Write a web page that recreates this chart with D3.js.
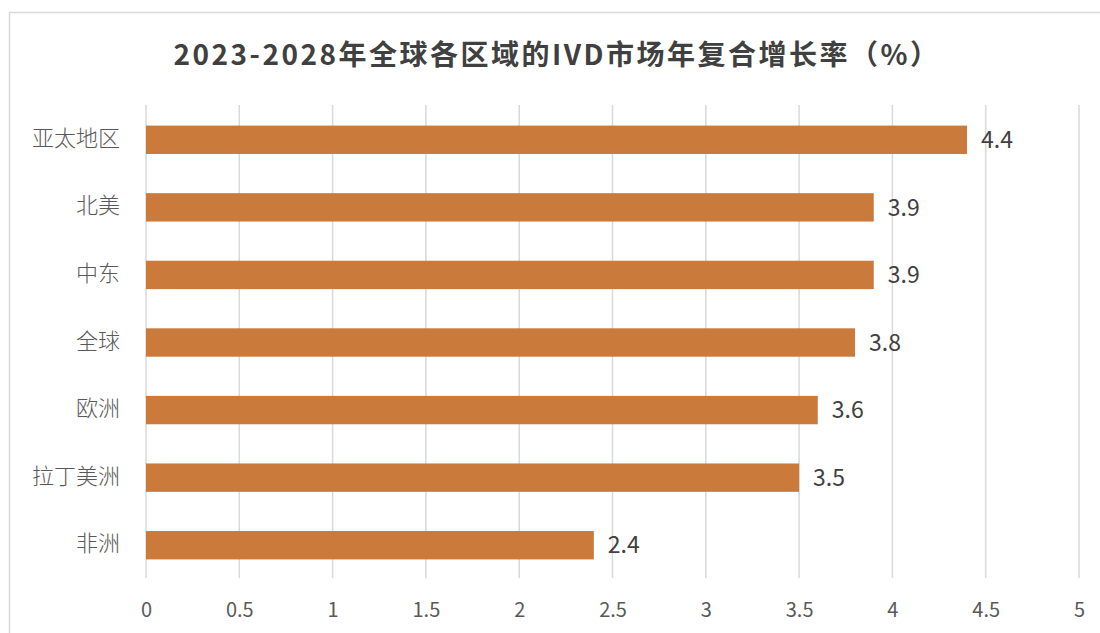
<!DOCTYPE html>
<html><head><meta charset="utf-8">
<script src="https://cdn.jsdelivr.net/npm/d3@7"></script>
<style>body{margin:0;background:#fff;}svg{display:block;}</style>
</head><body>
<svg id="c" width="1100" height="633"></svg>
<script>
const categories = ["亚太地区","北美","中东","全球","欧洲","拉丁美洲","非洲"];
const values = [4.4, 3.9, 3.9, 3.8, 3.6, 3.5, 2.4];
const ticks = [0,0.5,1,1.5,2,2.5,3,3.5,4,4.5,5];
const tickLabels = ["0","0.5","1","1.5","2","2.5","3","3.5","4","4.5","5"];
const title = "2023-2028年全球各区域的IVD市场年复合增长率（%）";

const svg = d3.select("#c");
const font = "'Noto Sans CJK SC','Microsoft YaHei',sans-serif";
// border
svg.append("rect").attr("x",9.5).attr("y",12.5).attr("width",1100).attr("height",640)
  .attr("fill","#fff").attr("stroke","#d9d9d9").attr("stroke-width",1.5);

const x = d3.scaleLinear().domain([0,5]).range([146,1079]);
const y = d3.scaleBand().domain(categories).range([105,578]).paddingInner(0.58).paddingOuter(0.29);

svg.append("text").attr("x",557).attr("y",65).attr("text-anchor","middle")
  .attr("font-family",font).attr("font-weight","bold").attr("font-size",28)
  .attr("letter-spacing",2.5).attr("fill","#404040").text(title);

// gridlines
svg.append("g").selectAll("line").data(ticks).join("line")
  .attr("x1",d=>x(d)).attr("x2",d=>x(d)).attr("y1",105).attr("y2",578)
  .attr("stroke","#d9d9d9").attr("stroke-width",1.5);

// x axis labels
const xa = svg.append("g").attr("transform","translate(0,578)")
  .call(d3.axisBottom(x).tickValues(ticks).tickFormat((d,i)=>tickLabels[i]).tickSize(0).tickPadding(25));
xa.select(".domain").remove();
xa.selectAll("text").attr("font-family",font).attr("font-size",20).attr("fill","#595959");

// y axis labels
const ya = svg.append("g").attr("transform","translate(146,0)")
  .call(d3.axisLeft(y).tickSize(0).tickPadding(26));
ya.select(".domain").remove();
ya.selectAll("text").attr("font-family",font).attr("font-size",22).attr("font-weight",300).attr("fill","#595959");

// bars
svg.append("g").selectAll("rect").data(values).join("rect")
  .attr("x",x(0)).attr("y",(d,i)=>y(categories[i])+1)
  .attr("width",d=>x(d)-x(0)).attr("height",y.bandwidth())
  .attr("fill","#CA7A3B");

// value labels
svg.append("g").selectAll("text").data(values).join("text")
  .attr("x",d=>x(d)+14).attr("y",(d,i)=>y(categories[i])+1+y.bandwidth()/2)
  .attr("dy","0.36em").attr("font-family",font).attr("font-size",23).attr("fill","#404040")
  .text(d=>d.toFixed(1));
</script>
</body></html>
